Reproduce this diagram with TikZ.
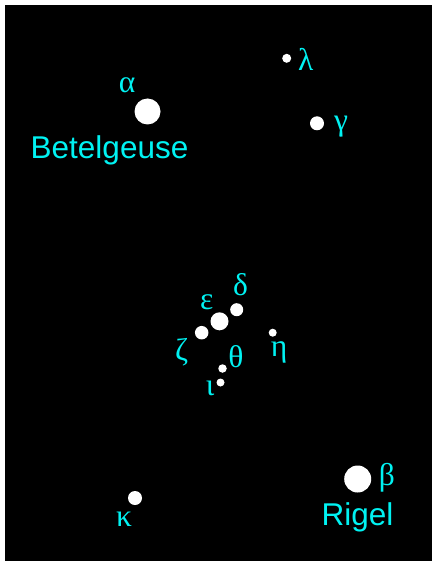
\documentclass[tikz,border=0pt]{standalone}
\usepackage{fontspec}
\setmainfont{Liberation Serif}
\newfontfamily\namefont{Liberation Sans}
\definecolor{lab}{RGB}{0,242,242}
\begin{document}
\begin{tikzpicture}[x=1pt,y=-1pt,
  star/.style={circle,fill=white,draw=none,inner sep=0pt,minimum size=#1},
  glab/.style={text=lab,inner sep=0pt,font=\fontsize{31.5}{34}\selectfont},
  nlab/.style={text=lab,inner sep=0pt,font=\namefont\fontsize{31.5}{34}\selectfont}]
\useasboundingbox (0,0) rectangle (432,561);
\fill[white] (0,0) rectangle (432,561);
\fill[black] (5,5) rectangle (432,561);
% stars
\node[star=26pt] (alpha) at (147.5,111.5) {};
\node[star=9pt] (lambda) at (286.7,58.3) {};
\node[star=14pt] (gamma) at (317,123.3) {};
\node[star=13pt] (delta) at (236.7,309.7) {};
\node[star=18pt] (epsilon) at (219.5,321.3) {};
\node[star=13.5pt] (zeta) at (201.7,332.7) {};
\node[star=8pt] (eta) at (272.7,332.7) {};
\node[star=8.5pt] (theta) at (222.5,368.5) {};
\node[star=8pt] (iota) at (220.5,382.5) {};
\node[star=14pt] (kappa) at (135,498) {};
\node[star=27pt] (beta) at (357.7,479) {};
% labels
\node[glab] (alphaL) at (127,85) {α};
\node[nlab,anchor=base west] (betelgeuse) at (30.5,158.5) {Betelgeuse};
\node[glab] (lambdaL) at (305.7,59) {λ};
\node[glab] (gammaL) at (341,127) {γ};
\node[glab] (deltaL) at (240.5,285) {δ};
\node[glab] (epsilonL) at (206.7,302) {ε};
\node[glab] (zetaL) at (181.7,352) {ζ};
\node[glab] (etaL) at (279,352) {η};
\node[glab] (thetaL) at (236,357) {θ};
\node[glab] (iotaL) at (210,388) {ι};
\node[glab] (kappaL) at (124,519) {κ};
\node[glab] (betaL) at (387,478) {β};
\node[nlab,anchor=base] (rigel) at (357.5,525.5) {Rigel};
\end{tikzpicture}
\end{document}
